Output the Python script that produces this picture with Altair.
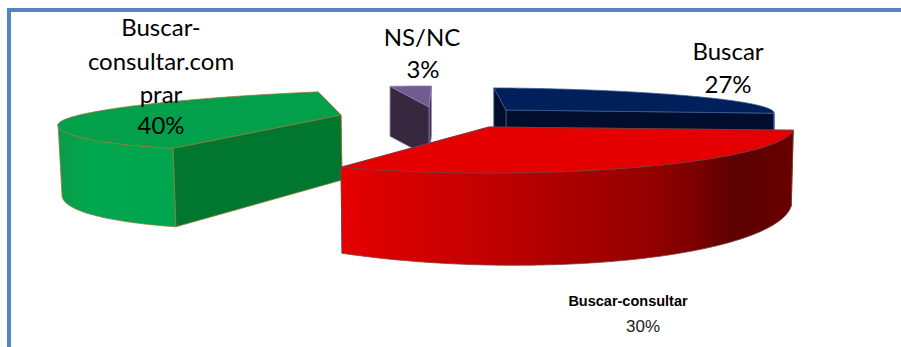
import math
import altair as alt
import pandas as pd

# Survey shares, in percent
categories = ["Buscar", "NS/NC", "Buscar-consultar.com prar", "Buscar-consultar"]
shares = [27, 3, 40, 30]

# Top-face, cut-face and rim fills for each wedge
top_fill = ["#001f5b", "#735a93", "#03a04b", "#e40000"]
cut_fill = ["#000d2c", "#37283f", "#00762f", "#a00000"]
edge_colour = ["#3a5c90", "#8c7aa9", "#8f7a3a", "#7a4040"]

RIM_GRADIENTS = {
    "Buscar": [(0, "#000d2c"), (1, "#000d2c")],
    "NS/NC": [(0, "#37283f"), (1, "#37283f")],
    "Buscar-consultar.com prar": [(0, "#0a9a48"), (0.3, "#00a84f"), (1, "#00a54d")],
    "Buscar-consultar": [
        (0.0, "#e60000"), (0.24, "#cc0000"), (0.46, "#b00000"), (0.68, "#950000"),
        (0.79, "#7a0000"), (0.87, "#5c0000"), (1.0, "#680000"),
    ],
}

# Oblique projection of each exploded wedge: apex, radii, skew of the top and
# bottom rims, plus where its sweep begins and how much depth foreshortens it.
PROJECTION = {
    "Buscar": dict(start=267.4, squeeze=0.959,
                   top=(506, 110, 268, 22, 22, 0.011), bottom=(506, 155, 268, 22, 22, 0.011)),
    "NS/NC": dict(start=259.8, squeeze=1.0,
                  top=(429, 107, 220, 21, 21, 0.0), bottom=(429, 157, 220, 21, 21, 0.0)),
    "Buscar-consultar.com prar": dict(start=126.4, squeeze=0.965,
                  top=(341, 115, 283, 34, 24, -0.035), bottom=(342, 180, 280, 47, 30, -0.054)),
    "Buscar-consultar": dict(start=4.0, squeeze=1.065,
                  top=(489, 127, 305, 46, 22, 0.0), bottom=(489, 195, 303, 70, 30, 0.02)),
}

PROJ = dict(type="identity", scale=1, translate=[0, 0])


def rim_point(ring, deg):
    cx, cy, rx, ry_front, ry_back, shear = ring
    t = math.radians(deg)
    s, c = math.sin(t), math.cos(t)
    dx = rx * c
    return [cx + dx, cy + (ry_front if s > 0 else ry_back) * s + shear * dx]


def polygon(points):
    return {"type": "Feature", "properties": {},
            "geometry": {"type": "Polygon", "coordinates": [points + [points[0]]]}}


def face(points, fill, stroke, width=0.8):
    return alt.Chart(alt.Data(values=[polygon(points)])).mark_geoshape(
        fill=fill, stroke=stroke, strokeWidth=width
    ).project(**PROJ)


def wedge_layers(name, share, top_c, cut_c, edge):
    p = PROJECTION[name]
    a0 = p["start"]
    a1 = a0 + share * 3.6 * p["squeeze"]
    n = max(int(a1 - a0) * 2, 4)
    degs = [a0 + (a1 - a0) * i / n for i in range(n + 1)]
    top, bot = p["top"], p["bottom"]
    apex_t, apex_b = [top[0], top[1]], [bot[0], bot[1]]

    layers = []
    # Radial cut faces, the far one first
    for end in (a1, a0):
        layers.append(face([apex_t, rim_point(top, end), rim_point(bot, end), apex_b], cut_c, edge))
    # Outer rim, only the part turned toward the viewer
    front = [d for d in degs if 0 <= d % 360 <= 181]
    if len(front) > 1:
        pts = [rim_point(top, d) for d in front] + [rim_point(bot, d) for d in reversed(front)]
        grad = alt.Gradient(
            gradient="linear", x1=0, x2=1, y1=0, y2=0,
            stops=[alt.GradientStop(offset=o, color=c) for o, c in RIM_GRADIENTS[name]],
        )
        layers.append(face(pts, grad, edge))
    # Top face
    layers.append(face([apex_t] + [rim_point(top, d) for d in degs], top_c, edge))
    return layers


layers = []
for i in range(len(categories)):
    layers += wedge_layers(categories[i], shares[i], top_fill[i], cut_fill[i], edge_colour[i])

# Frame along the top and left sides
frame = alt.Chart(alt.Data(values=[{
    "type": "Feature", "properties": {},
    "geometry": {"type": "LineString", "coordinates": [[9, 347], [9, 10], [901, 10]]},
}])).mark_geoshape(filled=False, stroke="#5585c0", strokeWidth=4).project(**PROJ)


def text_layer(rows, **style):
    return alt.Chart(pd.DataFrame(rows)).mark_text(baseline="alphabetic", **style).encode(
        longitude="lon:Q", latitude="lat:Q", text="label:N"
    ).project(**PROJ)


callouts = text_layer(
    [
        {"label": "Buscar-", "lon": 161, "lat": 36},
        {"label": "consultar.com", "lon": 161, "lat": 70},
        {"label": "prar", "lon": 161, "lat": 103},
        {"label": f"{shares[2]}%", "lon": 161, "lat": 134},
        {"label": categories[1], "lon": 422, "lat": 46},
        {"label": f"{shares[1]}%", "lon": 423, "lat": 78},
        {"label": categories[0], "lon": 728, "lat": 60},
        {"label": f"{shares[0]}%", "lon": 728, "lat": 93},
    ],
    font="Lato", fontSize=24, color="#000000", align="center",
)
red_name = text_layer(
    [{"label": categories[3], "lon": 628, "lat": 306}],
    font="Liberation Sans", fontSize=14.5, fontWeight="bold", color="#000000", align="center",
)
red_share = text_layer(
    [{"label": f"{shares[3]}%", "lon": 643, "lat": 332}],
    font="Liberation Sans", fontSize=17, color="#222222", align="center",
)

chart = alt.layer(frame, *layers, callouts, red_name, red_share).properties(
    width=901, height=347, padding=0, autosize="none", background="#ffffff"
).configure_view(stroke=None)

chart.save("out.html", embed_options={"renderer": "svg", "actions": False})
